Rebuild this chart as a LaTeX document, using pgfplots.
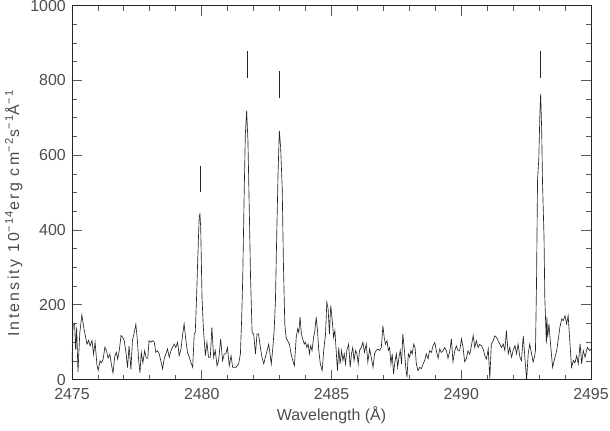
\documentclass[border=0pt]{standalone}
\usepackage{fontspec}
\setmainfont{Liberation Sans}
\usepackage{pgfplots}
\pgfplotsset{compat=1.18}
\usepackage{pgfplotstable}
\pgfplotstableread{
x y
2475.00 45
2475.04 145
2475.10 148
2475.14 80
2475.18 140
2475.23 20
2475.30 125
2475.38 173
2475.45 140
2475.52 115
2475.58 95
2475.64 105
2475.70 90
2475.77 105
2475.83 68
2475.89 100
2475.96 40
2476.01 25
2476.08 50
2476.14 45
2476.20 55
2476.27 87
2476.33 77
2476.39 58
2476.46 68
2476.52 40
2476.58 18
2476.65 63
2476.71 73
2476.76 55
2476.82 77
2476.89 118
2476.95 113
2477.01 105
2477.08 73
2477.14 32
2477.20 90
2477.27 27
2477.33 105
2477.39 123
2477.46 148
2477.52 105
2477.57 50
2477.62 18
2477.67 73
2477.73 45
2477.80 77
2477.86 58
2477.92 58
2477.97 104
2478.04 100
2478.10 104
2478.17 100
2478.23 73
2478.30 77
2478.36 69
2478.42 51
2478.49 29
2478.55 55
2478.62 69
2478.68 82
2478.75 60
2478.81 77
2478.87 86
2478.94 95
2479.00 86
2479.07 100
2479.13 64
2479.20 82
2479.26 118
2479.32 149
2479.39 104
2479.45 73
2479.52 60
2479.58 46
2479.65 33
2479.71 122
2479.75 126
2479.80 220
2479.84 310
2479.90 434
2479.93 443
2479.96 407
2480.01 220
2480.06 140
2480.14 64
2480.20 100
2480.26 60
2480.33 60
2480.39 140
2480.46 60
2480.52 78
2480.59 37
2480.65 51
2480.73 109
2480.80 51
2480.87 69
2480.93 69
2480.99 86
2481.06 37
2481.13 64
2481.19 33
2481.32 33
2481.42 42
2481.49 69
2481.54 167
2481.58 274
2481.63 479
2481.68 657
2481.73 719
2481.78 639
2481.83 461
2481.88 274
2481.94 126
2482.00 122
2482.07 69
2482.13 122
2482.19 122
2482.26 86
2482.32 60
2482.39 42
2482.45 60
2482.52 78
2482.58 95
2482.63 69
2482.68 42
2482.73 78
2482.79 131
2482.84 211
2482.89 389
2482.94 550
2482.99 666
2483.04 621
2483.10 514
2483.15 300
2483.20 149
2483.25 113
2483.31 104
2483.38 95
2483.44 69
2483.51 51
2483.57 37
2483.64 113
2483.70 136
2483.74 126
2483.79 167
2483.84 122
2483.89 109
2483.95 95
2484.00 100
2484.05 86
2484.10 95
2484.15 69
2484.20 91
2484.25 78
2484.31 113
2484.36 131
2484.41 167
2484.46 131
2484.51 78
2484.57 42
2484.64 24
2484.70 78
2484.77 122
2484.82 207
2484.87 189
2484.92 122
2484.97 198
2485.03 158
2485.08 113
2485.13 131
2485.18 78
2485.23 24
2485.28 86
2485.33 42
2485.39 78
2485.44 51
2485.49 69
2485.54 42
2485.59 78
2485.66 95
2485.72 33
2485.77 69
2485.82 86
2485.87 51
2485.93 78
2485.98 69
2486.03 42
2486.08 78
2486.15 86
2486.21 100
2486.27 73
2486.34 95
2486.40 47
2486.47 82
2486.53 60
2486.60 33
2486.66 69
2486.72 78
2486.79 82
2486.85 78
2486.92 86
2486.98 144
2487.03 113
2487.08 95
2487.14 104
2487.19 78
2487.24 86
2487.29 42
2487.34 69
2487.39 15
2487.45 51
2487.50 69
2487.55 33
2487.60 60
2487.65 78
2487.70 42
2487.75 122
2487.81 78
2487.86 33
2487.91 6
2487.96 69
2488.01 60
2488.06 78
2488.11 69
2488.17 95
2488.22 86
2488.27 42
2488.33 24
2488.40 33
2488.46 29
2488.53 42
2488.59 51
2488.65 69
2488.72 56
2488.78 77
2488.85 73
2488.91 90
2488.98 99
2489.04 77
2489.11 57
2489.17 82
2489.23 73
2489.30 77
2489.36 86
2489.43 77
2489.49 57
2489.56 77
2489.62 109
2489.68 48
2489.75 77
2489.81 90
2489.88 77
2489.94 77
2490.01 109
2490.07 86
2490.13 48
2490.20 57
2490.26 77
2490.33 68
2490.39 90
2490.46 118
2490.52 86
2490.58 104
2490.65 86
2490.71 94
2490.78 91
2490.84 82
2490.91 64
2490.97 55
2491.04 82
2491.10 3
2491.16 95
2491.23 104
2491.29 117
2491.36 113
2491.42 104
2491.49 95
2491.55 86
2491.62 95
2491.68 78
2491.74 131
2491.81 69
2491.87 86
2491.94 60
2492.00 78
2492.07 91
2492.13 69
2492.19 95
2492.26 60
2492.32 51
2492.39 117
2492.45 60
2492.52 0
2492.58 69
2492.64 95
2492.71 69
2492.77 47
2492.82 60
2492.86 78
2492.90 256
2492.94 532
2492.99 594
2493.03 710
2493.06 764
2493.10 666
2493.13 532
2493.19 380
2493.22 220
2493.28 96
2493.30 167
2493.33 113
2493.38 149
2493.44 96
2493.52 33
2493.58 51
2493.68 78
2493.75 113
2493.80 140
2493.87 162
2493.93 158
2494.00 171
2494.06 149
2494.12 171
2494.19 96
2494.25 33
2494.32 51
2494.38 45
2494.45 64
2494.51 42
2494.58 96
2494.64 42
2494.70 78
2494.77 60
2494.86 86
2494.94 78
2495.00 82
}\spectrum
\begin{document}
\begin{tikzpicture}
\begin{axis}[
  at={(0,0)}, anchor=south west,
  scale only axis, width=519bp, height=374bp,
  xmin=2475, xmax=2495, ymin=0, ymax=1000,
  xtick={2475,2480,...,2495}, ytick={0,200,...,1000},
  minor x tick num=4, minor y tick num=3,
  tick align=inside, major tick length=10bp, minor tick length=5bp,
  xticklabel pos=lower, yticklabel pos=left,
  /pgf/number format/assume math mode=true,
  /pgf/number format/1000 sep={},
  tick label style={font=\fontsize{16}{18}\selectfont, text=black!70, inner sep=0pt},
  xticklabel style={yshift=-9bp},
  yticklabel style={xshift=-6bp},
  xlabel={Wavelength (Å)},
  ylabel={\addfontfeature{LetterSpace=14}Intensity 10\textsuperscript{−14}erg cm\textsuperscript{−2}s\textsuperscript{−1}Å\textsuperscript{−1}},
  xlabel style={at={(axis description cs:0.5,-0.096)}, anchor=center, font=\fontsize{16}{18}\selectfont, text=black!70},
  ylabel style={at={(axis description cs:-0.112,0.445)}, anchor=center, font=\fontsize{16}{18}\selectfont, text=black!70},
  axis line style={black!85, line width=0.8bp},
  tick style={black!65, line width=0.8bp},
  clip=true,
]
\addplot[black!85, line width=0.65bp] table[x=x,y=y] {\spectrum};
\addplot[black!85, line width=0.65bp] coordinates {(2479.95,502) (2479.95,572)};
\addplot[black!85, line width=0.65bp] coordinates {(2481.75,806) (2481.75,880)};
\addplot[black!85, line width=0.65bp] coordinates {(2483.00,754) (2483.00,826)};
\addplot[black!85, line width=0.65bp] coordinates {(2493.06,807) (2493.06,880)};
\end{axis}
\path (-72bp,-51bp) rectangle (538bp,379bp);
\end{tikzpicture}
\end{document}
